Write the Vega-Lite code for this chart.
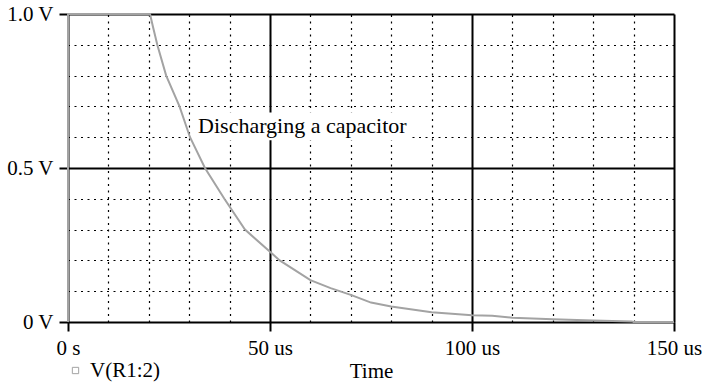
{
  "$schema": "https://vega.github.io/schema/vega-lite/v6.json",
  "width": 606,
  "height": 308,
  "autosize": {"type": "none"},
  "padding": {"left": 68, "top": 14, "right": 29, "bottom": 64},
  "background": "white",
  "config": {
    "view": {"stroke": null},
    "font": "Liberation Serif",
    "axis": {"labelFont": "Liberation Serif", "titleFont": "Liberation Serif", "labelFontSize": 21, "titleFontSize": 21, "labelColor": "black", "titleColor": "black", "titleFontWeight": "normal"},
    "legend": {"labelFont": "Liberation Serif", "labelFontSize": 21, "labelColor": "black"}
  },
  "datasets": {
    "trace": [
      {"t": 0, "v": 0, "series": "V(R1:2)"},
      {"t": 0, "v": 1, "series": "V(R1:2)"},
      {"t": 20.3, "v": 1, "series": "V(R1:2)"},
      {"t": 21, "v": 0.96, "series": "V(R1:2)"},
      {"t": 22.1, "v": 0.9, "series": "V(R1:2)"},
      {"t": 24.3, "v": 0.8, "series": "V(R1:2)"},
      {"t": 27.6, "v": 0.7, "series": "V(R1:2)"},
      {"t": 30.2, "v": 0.6, "series": "V(R1:2)"},
      {"t": 33.9, "v": 0.5, "series": "V(R1:2)"},
      {"t": 38.7, "v": 0.4, "series": "V(R1:2)"},
      {"t": 43.8, "v": 0.3, "series": "V(R1:2)"},
      {"t": 50, "v": 0.228, "series": "V(R1:2)"},
      {"t": 52.4, "v": 0.2, "series": "V(R1:2)"},
      {"t": 60, "v": 0.136, "series": "V(R1:2)"},
      {"t": 65, "v": 0.11, "series": "V(R1:2)"},
      {"t": 70, "v": 0.088, "series": "V(R1:2)"},
      {"t": 75, "v": 0.063, "series": "V(R1:2)"},
      {"t": 80, "v": 0.05, "series": "V(R1:2)"},
      {"t": 90, "v": 0.032, "series": "V(R1:2)"},
      {"t": 100, "v": 0.022, "series": "V(R1:2)"},
      {"t": 105, "v": 0.02, "series": "V(R1:2)"},
      {"t": 110, "v": 0.014, "series": "V(R1:2)"},
      {"t": 120, "v": 0.009, "series": "V(R1:2)"},
      {"t": 130, "v": 0.005, "series": "V(R1:2)"},
      {"t": 139.5, "v": 0.002, "series": "V(R1:2)"},
      {"t": 140, "v": 0, "series": "V(R1:2)"},
      {"t": 150, "v": 0, "series": "V(R1:2)"}
    ],
    "note": [
      {"label": "Discharging a capacitor", "t": 32.2, "v": 0.615, "t_lo": 30.3, "t_hi": 85, "v_lo": 0.59, "v_hi": 0.68}
    ]
  },
  "resolve": {"axis": {"x": "independent", "y": "independent"}},
  "layer": [
    {
      "data": {"name": "trace"},
      "mark": {"type": "point", "opacity": 0},
      "encoding": {
        "x": {"field": "t", "type": "quantitative", "scale": {"domain": [0, 150], "nice": false, "zero": false},
          "axis": {"orient": "top", "values": [10, 20, 30, 40, 60, 70, 80, 90, 110, 120, 130, 140], "grid": true, "gridColor": "black", "gridWidth": 1.2, "gridDash": [2, 4.5], "gridOpacity": 1, "domain": false, "ticks": false, "labels": false, "title": null}},
        "y": {"field": "v", "type": "quantitative", "scale": {"domain": [0, 1], "nice": false, "zero": false},
          "axis": {"orient": "right", "values": [0.1, 0.2, 0.3, 0.4, 0.6, 0.7, 0.8, 0.9], "grid": true, "gridColor": "black", "gridWidth": 1.2, "gridDash": [2, 4.5], "gridOpacity": 1, "domain": false, "ticks": false, "labels": false, "title": null}}
      }
    },
    {
      "data": {"name": "trace"},
      "mark": {"type": "point", "opacity": 0},
      "encoding": {
        "x": {"field": "t", "type": "quantitative",
          "axis": {"orient": "top", "values": [50, 100], "grid": true, "gridColor": "black", "gridWidth": 2, "gridOpacity": 1, "domain": true, "domainColor": "black", "domainWidth": 2, "ticks": false, "labels": false, "title": null}},
        "y": {"field": "v", "type": "quantitative",
          "axis": {"orient": "right", "values": [0.5], "grid": true, "gridColor": "black", "gridWidth": 2, "gridOpacity": 1, "domain": true, "domainColor": "black", "domainWidth": 2, "ticks": false, "labels": false, "title": null}}
      }
    },
    {
      "data": {"name": "note"},
      "mark": {"type": "rect", "color": "white"},
      "encoding": {
        "x": {"field": "t_lo", "type": "quantitative", "axis": null},
        "x2": {"field": "t_hi"},
        "y": {"field": "v_lo", "type": "quantitative", "axis": null},
        "y2": {"field": "v_hi"}
      }
    },
    {
      "data": {"name": "trace"},
      "mark": {"type": "line", "strokeWidth": 2},
      "encoding": {
        "x": {"field": "t", "type": "quantitative",
          "axis": {"orient": "bottom", "values": [0, 50, 100, 150], "grid": false, "domain": true, "domainColor": "black", "domainWidth": 2, "ticks": true, "tickColor": "black", "tickWidth": 2, "tickSize": 9, "labelPadding": 6, "labelFlush": false, "labelExpr": "datum.value == 0 ? '0 s' : datum.value + ' us'", "title": "Time", "titlePadding": 2}},
        "y": {"field": "v", "type": "quantitative",
          "axis": {"orient": "left", "values": [0, 0.5, 1], "grid": false, "domain": true, "domainColor": "black", "domainWidth": 2, "ticks": true, "tickColor": "black", "tickWidth": 2, "tickSize": 9, "labelPadding": 6, "labelExpr": "datum.value == 0 ? '0 V' : format(datum.value, '.1f') + ' V'", "title": null}},
        "color": {"field": "series", "type": "nominal", "scale": {"range": ["#a3a3a3"]},
          "legend": {"orient": "none", "legendX": -3, "legendY": 346, "title": null, "symbolType": "square", "symbolSize": 40, "symbolStrokeWidth": 1, "symbolFillColor": "white", "labelOffset": 4}}
      }
    },
    {
      "data": {"name": "note"},
      "mark": {"type": "text", "align": "left", "baseline": "alphabetic", "fontSize": 22, "font": "Liberation Serif", "color": "black"},
      "encoding": {
        "x": {"field": "t", "type": "quantitative", "axis": null},
        "y": {"field": "v", "type": "quantitative", "axis": null},
        "text": {"field": "label"}
      }
    }
  ]
}
